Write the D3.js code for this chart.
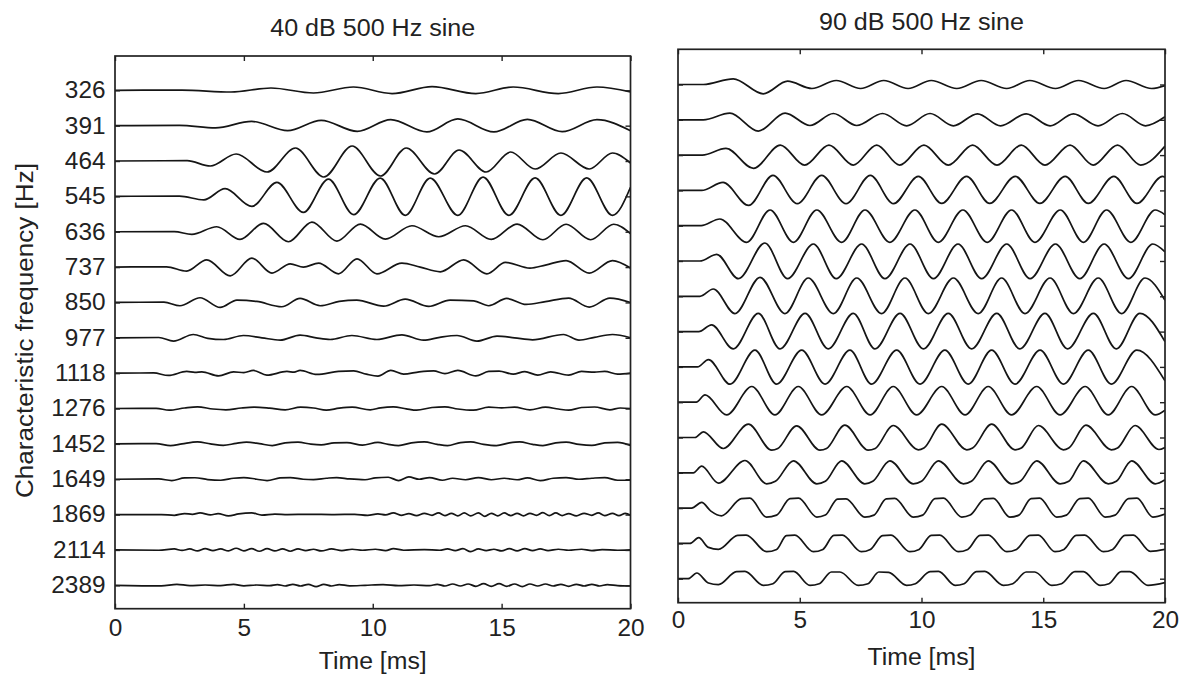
<!DOCTYPE html>
<html>
<head>
<meta charset="utf-8">
<script src="https://cdn.jsdelivr.net/npm/d3@7"></script>
<style>
  body { margin: 0; background: #fff; }
  text { font-family: "Liberation Sans", Arial, Helvetica, sans-serif; fill: #222; }
</style>
</head>
<body>
<svg id="chart" width="1188" height="675"></svg>
<script>
// characteristic frequencies of the channels (top to bottom)
const cfLabels = ["326", "391", "464", "545", "636", "737", "850", "977",
  "1118", "1276", "1452", "1649", "1869", "2114", "2389"]
const timeTicks = [0, 5, 10, 15, 20]
const titles = ["40 dB 500 Hz sine", "90 dB 500 Hz sine"]

// 40 dB response, one trace per channel: [time ms, displacement]
const quiet = [
  [[0,0],[2.6,0.2],[4.5,-1.7],[6.05,2.3],[7.7,-2.7],[9.25,3.3],[10.75,-3.3],[12.3,3.7],[14.0,-3.3],[15.45,3.3],[17.2,-3.3],[18.7,3.3],[20,-1.5]],
  [[0,0],[2.5,0.3],[3.9,-2.3],[5.3,4.3],[6.7,-5],[8.0,5.3],[9.4,-5.7],[10.7,6],[12.1,-6.3],[13.3,6.7],[14.7,-6.3],[16.0,6.3],[17.35,-6],[18.7,6],[20,-5]],
  [[0,0],[2.8,0.3],[3.7,-5],[4.7,7],[5.9,-11],[7.0,13],[8.1,-16],[9.2,15],[10.3,-15],[11.3,13],[12.4,-13],[13.35,11],[14.4,-11],[15.35,9],[16.3,-8],[17.3,8],[18.4,-8],[19.3,8],[20,-2]],
  [[0,0],[2.5,0.3],[3.45,-3.5],[4.27,7.7],[5.31,-10],[6.28,14],[7.31,-16],[8.28,17.3],[9.26,-18.3],[10.29,18.3],[11.26,-19],[12.23,18.3],[13.3,-19],[14.28,19.3],[15.28,-19],[16.3,18.5],[17.3,-19],[18.3,18.5],[19.3,-19],[20,9]],
  [[0,0],[2.3,0.2],[2.98,-2.7],[3.95,5],[4.85,-7.7],[5.76,8.3],[6.73,-10],[7.64,9.7],[8.61,-9.3],[9.52,7.7],[10.49,-7.3],[11.52,6],[12.56,-5],[13.6,6],[14.6,-7.7],[15.6,7.7],[16.6,-8],[17.5,7.5],[18.45,-8],[19.35,7.5],[20,-2]],
  [[0,0],[2.0,0.3],[2.78,-4],[3.56,7.3],[4.47,-8.7],[5.31,9],[6.09,-6],[6.8,3.3],[7.31,0],[7.9,4],[8.67,-6.7],[9.39,8.3],[10.16,-6.7],[11.13,4],[11.84,0],[12.62,-4.7],[13.53,7.3],[14.43,-6.7],[15.15,4.7],[16.1,-1],[16.7,2],[17.5,6.5],[18.4,-6],[19.3,6.5],[20,-1]],
  [[0,0],[1.9,0.3],[2.52,-3.3],[3.3,4.7],[4.08,-5],[4.73,2.3],[5.5,1],[6.47,-4.3],[7.18,4],[7.96,-3.3],[8.7,1],[9.38,2.3],[10.42,-3.7],[11.26,3.3],[12.17,-4],[13.0,2.3],[13.92,1.5],[14.5,-3.3],[15.2,4],[15.95,-2],[16.7,0.8],[17.6,4.3],[18.4,-4.7],[19.2,4.3],[20,0]],
  [[0,0],[1.7,0.3],[2.27,-3.3],[3.04,3.3],[3.6,-0.5],[4.21,-1.7],[4.98,2.3],[5.7,0],[6.41,-2.3],[7.18,2.7],[7.8,0],[8.35,-1.7],[9.19,2.3],[10.16,-1.7],[11.13,3],[11.97,-2.3],[12.6,0.5],[13.27,2.3],[14.04,-3.3],[14.82,1.7],[15.5,0],[16.2,-2],[17.4,3.3],[18.0,-2.3],[18.6,0.5],[19.3,3.3],[20,0]],
  [[0,0],[1.5,0.2],[2.07,-2.3],[2.78,1.7],[3.1,0.8],[3.37,1.3],[4.02,-2.7],[4.6,1.3],[5.0,0.5],[5.37,2.7],[5.89,-2],[6.67,1.7],[6.95,1],[7.18,2.7],[7.83,-1.3],[8.67,1.7],[9.26,2.3],[9.75,-1],[10.2,-3],[10.7,2.7],[11.2,-1],[11.8,1.3],[12.36,2.3],[12.8,-0.5],[13.3,2.7],[14.0,-2.7],[14.5,1.7],[14.9,2],[15.45,-1],[15.9,1.5],[16.4,-2],[16.9,1.3],[17.6,-2],[18.1,1.7],[18.6,1],[19.0,1.8],[19.5,-1],[20,0]],
  [[0,0],[1.6,0.2],[2.1,-1.7],[2.7,0.5],[3.2,1.7],[3.8,-0.5],[4.3,-1.3],[4.9,0.5],[5.4,1.3],[6.0,0.3],[6.6,-1.3],[7.2,1.3],[7.7,0.5],[8.2,-1.7],[8.7,0.3],[9.2,1.3],[9.9,-1.3],[10.3,0.7],[10.8,1.7],[11.3,-0.3],[11.7,-1.7],[12.3,1],[12.8,1.7],[13.3,-0.5],[13.9,-1.7],[14.5,1.3],[15.0,0.7],[15.5,1.3],[16.1,-1.3],[16.7,1.3],[17.2,-0.5],[17.6,-1.7],[18.1,1],[18.6,1.5],[19.2,-1.3],[19.6,0.5],[20,0]],
  [[0,0],[1.6,0.2],[2.15,-1.7],[2.6,0],[3.2,2],[3.7,0],[4.2,-1.5],[4.7,0.5],[5.1,1.7],[5.6,0.3],[6.1,-1.7],[6.6,1],[7.1,1.7],[7.6,-0.3],[8.0,-1],[8.5,1],[9.0,1.3],[9.6,-1.3],[10.2,1.5],[10.6,-0.5],[11.0,-1.7],[11.5,1],[12.0,2],[12.5,-0.5],[12.9,-1.7],[13.4,1.3],[13.8,2],[14.3,-0.5],[14.8,-1.7],[15.3,1],[15.7,2],[16.2,-0.5],[16.6,-1.7],[17.1,1],[17.5,1.7],[18.0,-0.5],[18.5,-1.5],[19.0,1],[19.5,1.5],[20,-1.5]],
  [[0,0],[1.7,0.3],[2.2,-1.3],[2.7,1.3],[3.1,1.5],[3.6,-0.3],[4.1,-1],[4.6,1],[5.0,1.7],[5.5,0],[5.9,-1.3],[6.4,1.3],[6.8,1.7],[7.3,0],[7.7,-0.3],[8.2,1],[8.6,1.7],[9.1,0.3],[9.7,-0.5],[10.1,1.3],[10.6,2],[11.0,-1.3],[11.4,2.3],[11.8,0],[12.2,1.7],[12.7,-1],[13.1,1],[13.6,-0.5],[14.1,1.7],[14.6,-0.5],[15.1,1],[15.6,-0.5],[16.0,1.3],[16.5,-1.3],[17.0,1],[17.5,1.7],[18.0,0],[18.5,1],[19.0,1.7],[19.5,-1],[20,-1]],
  [[0,0],[1.8,0],[2.3,-0.7],[2.7,1],[3.0,0.3],[3.3,1.7],[3.7,-0.3],[4.0,1],[4.4,-1.3],[4.8,0.7],[5.3,1.7],[5.7,-0.5],[6.2,0.5],[6.7,0],[7.5,0.3],[8.5,0],[9.3,0.3],[9.8,-0.7],[10.2,0.7],[10.5,-0.3],[10.8,1.7],[11.1,-0.7],[11.4,1],[11.7,-1],[12.0,1.3],[12.3,-0.7],[12.55,1.7],[12.8,-1],[13.05,1.3],[13.3,-1.3],[13.55,1.7],[13.8,-1.3],[14.1,1.7],[14.35,-1.7],[14.6,1.3],[14.85,-1.3],[15.1,1.7],[15.35,-1],[15.6,1.3],[15.85,-1.3],[16.1,1.3],[16.35,-0.7],[16.6,2],[16.85,-1],[17.1,1.7],[17.35,-1],[17.6,1],[17.9,-1.3],[18.2,1.3],[18.5,-0.7],[18.75,1.7],[19.0,-1],[19.3,1.3],[19.55,-1],[19.8,1.3],[20,-0.7]],
  [[0,0],[1.7,-0.3],[2.3,1],[2.6,-0.5],[2.9,1],[3.2,-1],[3.5,1.3],[3.8,-0.7],[4.1,1],[4.4,-1],[4.7,1.7],[5.0,-1],[5.3,1.3],[5.6,-1.3],[5.9,1.3],[6.2,-1],[6.5,1],[6.8,-1.3],[7.1,1],[7.4,-0.7],[7.7,0.7],[8.0,-1],[8.4,1],[8.8,-0.7],[9.2,0.7],[9.6,-0.3],[10.1,0.7],[10.5,-0.7],[10.8,1.3],[11.2,-0.3],[12.0,0.3],[12.6,-0.3],[12.9,1],[13.2,-0.7],[13.5,1.3],[13.8,-1.7],[14.1,1],[14.4,-0.7],[14.7,0.7],[15.0,-1],[15.3,1.3],[15.6,-1],[15.9,1.3],[16.2,-0.7],[16.5,1],[16.8,-0.7],[17.2,0.7],[17.6,-0.3],[18.1,0.7],[18.5,-0.7],[18.9,0.3],[19.5,-0.3],[20,0]],
  [[0,0],[1.8,-0.5],[2.4,1],[2.9,-0.3],[3.5,0.3],[4.1,-0.3],[4.6,1],[5.0,-0.5],[5.5,0.3],[6.0,-0.3],[6.3,0.7],[6.6,-0.7],[6.9,1],[7.2,-0.7],[7.5,1],[7.8,-1.3],[8.1,1],[8.4,-0.7],[8.7,0.7],[9.1,-0.5],[9.7,0],[10.4,0.7],[11.0,-0.3],[11.6,0.3],[12.2,-0.3],[12.5,1],[12.8,-0.7],[13.1,1.3],[13.4,-0.7],[13.7,1.3],[14.0,-1],[14.3,1.7],[14.6,-1],[14.9,1.7],[15.2,-1],[15.5,1.3],[15.8,-1.3],[16.1,1.3],[16.4,-0.7],[16.7,1.3],[17.0,-0.7],[17.3,1],[17.6,-1],[17.9,1],[18.2,-0.7],[18.5,1],[18.8,-0.7],[19.1,0.7],[19.5,-0.3],[20,-0.7]]
]

// 90 dB response, same channels
const loud = [
  [[0,0],[1.04,0],[2.27,5.7],[3.5,-9.3],[4.5,3.3],[5.5,-4],[6.5,4],[7.5,-4],[8.45,4],[9.45,-4],[10.4,4],[11.45,-4],[12.45,4],[13.5,-4],[14.45,4],[15.5,-4],[16.45,4],[17.5,-4],[18.4,4],[19.45,-4],[20,-1]],
  [[0,0],[1.04,0],[2.13,6.7],[3.3,-11.3],[4.4,6.7],[5.42,-5.7],[6.38,6.3],[7.34,-5.7],[8.4,6.3],[9.39,-6],[10.35,6.3],[11.31,-6],[12.3,6],[13.25,-6],[14.3,6],[15.28,-6],[16.24,6],[17.25,-6],[18.25,6.3],[19.2,-6],[20,3]],
  [[0,0],[1.0,0],[1.97,6.7],[3.1,-13.3],[4.2,10],[5.2,-10],[6.2,10],[7.2,-10],[8.16,10],[9.1,-10],[10.1,10],[11.1,-10],[12.1,10],[13.1,-10],[14.1,10],[15.07,-10],[16.1,10],[17.05,-10],[18.05,10],[19.0,-10],[20,9]],
  [[0,0],[0.97,0],[1.85,8],[2.9,-15],[3.9,15],[4.9,-13.3],[5.9,15],[6.9,-13.3],[7.9,15],[8.85,-13.3],[9.87,14],[10.83,-13],[11.85,14],[12.8,-13],[13.85,14],[14.86,-13],[15.9,14],[16.85,-13],[17.9,14],[18.85,-13],[19.9,14],[20,13]],
  [[0,0],[0.95,0],[1.72,6.7],[2.82,-16.7],[3.78,15.7],[4.74,-16.7],[5.7,15.7],[6.72,-16.7],[7.68,15.7],[8.7,-16.7],[9.73,15.7],[10.69,-16.7],[11.7,15.7],[12.7,-16.7],[13.7,15.7],[14.66,-16.7],[15.7,15.7],[16.65,-16.7],[17.6,15.7],[18.6,-16.7],[19.6,15.7],[20,11]],
  [[0,0],[0.9,0],[1.59,6.7],[2.48,-17.7],[3.57,18],[4.5,-17.7],[5.56,17],[6.5,-17.7],[7.54,17],[8.5,-17.7],[9.53,17],[10.49,-17.7],[11.5,17],[12.47,-17.7],[13.5,17],[14.46,-17.7],[15.5,17],[16.5,-17.7],[17.5,17],[18.5,-17.7],[19.5,17],[20,9]],
  [[0,0],[0.9,0],[1.45,7.3],[2.34,-17.3],[3.37,19],[4.39,-17.3],[5.35,18.3],[6.38,-17.3],[7.34,18.3],[8.36,-17.3],[9.32,18.3],[10.28,-17.3],[11.31,18.3],[12.33,-17.3],[13.29,18.3],[14.25,-17.3],[15.28,18.3],[16.24,-17.3],[17.26,18.3],[18.22,-17.3],[19.18,18.3],[20,-4]],
  [[0,0],[0.85,0],[1.38,6.7],[2.27,-17.3],[3.3,18.3],[4.19,-17.3],[5.22,18.3],[6.17,-17.3],[7.2,18.3],[8.09,-17.3],[9.12,18.3],[10.08,-17.3],[11.1,18.3],[12.06,-17.3],[13.09,18.3],[14.04,-17.3],[15.07,18.3],[16.0,-17.3],[17.06,18.3],[18.0,-17.3],[18.97,18.3],[20,-10]],
  [[0,0],[0.8,0],[1.25,7.3],[2.14,-17.3],[3.16,16.7],[4.05,-17.3],[5.08,16.7],[6.04,-17.3],[7.06,16.7],[7.95,-17.3],[8.98,16.7],[9.94,-17.3],[10.96,16.7],[11.92,-17.3],[12.88,16.7],[13.84,-17.3],[14.87,16.7],[15.83,-17.3],[16.85,16.7],[17.8,-17.3],[18.84,16.7],[20,-14]],
  [[0,0],[0.75,0],[1.11,7.3],[2.0,-12.7],[3.03,15.7],[3.98,-12.7],[4.94,15.7],[5.9,-12.7],[6.93,15.7],[7.89,-12.7],[8.84,15.7],[9.8,-12.7],[10.83,15.7],[11.79,-12.7],[12.74,15.7],[13.7,-12.7],[14.73,15.7],[15.69,-12.7],[16.72,15.7],[17.67,-12.7],[18.63,15.7],[19.6,-12.7],[20,-8]],
  [[0,0],[0.7,0],[1.04,5.7],[1.86,-11],[2.89,13.3],[3.85,-12.7],[4.1,-11],[4.87,11.7],[5.83,-12.7],[6.1,-11],[6.85,12.3],[7.81,-12.7],[8.1,-11],[8.84,12],[9.87,-12.3],[10.1,-10.5],[10.83,13.3],[11.86,-12.3],[12.1,-10.5],[12.88,13.3],[13.84,-12.3],[14.1,-10.5],[14.8,12],[15.83,-12.3],[16.05,-10.5],[16.75,12.3],[17.8,-12.3],[18.05,-10.5],[18.77,12],[19.75,-12],[20,-10]],
  [[0,0],[0.63,0],[0.97,6.7],[1.66,-10.3],[2.75,12.3],[3.64,-11],[4.0,-8.5],[4.74,12],[5.7,-11],[6.05,-8.5],[6.72,12],[7.67,-11],[8.0,-8.5],[8.7,12],[9.66,-11],[10.0,-8.5],[10.69,12],[11.72,-11],[12.05,-8.5],[12.74,12],[13.7,-11],[14.05,-8.5],[14.73,12],[15.69,-11],[16.05,-8.5],[16.65,12],[17.67,-11],[18.0,-8.5],[18.63,12],[19.6,-11],[20,-7]],
  [[0,0],[0.56,0],[0.97,5.7],[1.35,-3],[1.79,-7.7],[2.6,9.5],[2.95,10],[3.63,-9],[4.05,-7],[4.6,9.5],[4.95,10],[5.7,-9],[6.05,-7],[6.55,9],[6.9,9.3],[7.67,-9],[8.05,-7],[8.55,9.3],[8.9,9.7],[9.66,-9],[10.05,-7],[10.55,9.5],[10.9,10],[11.65,-9],[12.0,-7],[12.6,9.3],[12.95,9.7],[13.63,-9],[14.0,-7],[14.5,9.5],[14.85,10],[15.55,-9],[15.95,-7],[16.5,9.5],[16.85,10],[17.54,-9],[17.95,-7],[18.5,9.5],[18.85,10],[19.5,-9],[20,-6]],
  [[0,0],[0.49,0],[0.85,5.7],[1.25,-4],[1.66,-6],[2.45,8],[2.8,8.3],[3.64,-8.3],[4.05,-6],[4.45,7.7],[4.8,8.3],[5.56,-8.3],[5.95,-6],[6.4,8],[6.75,8.3],[7.53,-8.3],[7.9,-6],[8.4,7.7],[8.75,8.3],[9.52,-8.3],[9.9,-6],[10.4,8],[10.75,8.3],[11.51,-8.3],[11.9,-6],[12.4,8],[12.75,8.3],[13.5,-8.3],[13.9,-6],[14.45,8],[14.8,8.3],[15.48,-8.3],[15.85,-6],[16.35,8],[16.7,8.3],[17.47,-8.3],[17.85,-6],[18.35,8],[18.7,8.3],[19.4,-8],[20,-6]],
  [[0,0],[0.42,0],[0.77,5.7],[1.25,-4.3],[1.66,-6],[2.4,7],[2.75,7.3],[3.5,-6.7],[3.9,-5],[4.4,7],[4.75,7.3],[5.42,-6.7],[5.8,-5],[6.3,6.7],[6.65,6.7],[7.4,-6.7],[7.8,-5],[8.25,6.7],[8.65,6.3],[9.39,-6.7],[9.75,-5],[10.35,7],[10.7,7.3],[11.38,-6.7],[11.75,-5],[12.25,7],[12.6,7.3],[13.36,-6.7],[13.75,-5],[14.3,6.7],[14.65,6.7],[15.35,-6.7],[15.75,-5],[16.3,7],[16.65,7],[17.33,-6.7],[17.7,-5],[18.2,7],[18.55,7],[19.3,-6.7],[20,-4]]
]

const svg = d3.select("#chart")
const fontSize = 23
const stretch = 1.06   // the figure's lettering is a little wider than Arial

function drawPanel(traces, title, box, showLabels, idx) {
  const x = d3.scaleLinear().domain([0, 20]).range([box.left, box.right])
  const y = d3.scalePoint().domain(cfLabels).range([box.firstRow, box.lastRow])
  const amp = d3.scaleLinear().domain([-20, 20]).range([20, -20])

  const g = svg.append("g")

  g.append("clipPath").attr("id", "clip" + idx)
    .append("rect")
    .attr("x", box.left).attr("y", box.top)
    .attr("width", box.right - box.left).attr("height", box.bottom - box.top)

  // traces
  const line = d3.line().curve(d3.curveMonotoneX)
  g.append("g").attr("clip-path", "url(#clip" + idx + ")")
    .selectAll("path")
    .data(traces)
    .join("path")
    .attr("d", (d, i) => line(d.map(p => [x(p[0]), y(cfLabels[i]) + amp(p[1])])))
    .attr("fill", "none")
    .attr("stroke", "#151515")
    .attr("stroke-width", 1.7)
    .attr("stroke-linejoin", "round")

  // axes, ticks pointing inward
  const bottomAxis = g.append("g")
    .attr("transform", `translate(0,${box.bottom})`)
    .call(d3.axisBottom(x).tickValues(timeTicks).tickSize(-5).tickPadding(box.xPad))
  g.append("g")
    .attr("transform", `translate(0,${box.top})`)
    .call(d3.axisTop(x).tickValues(timeTicks).tickSize(-5).tickFormat(""))
  const leftAxis = g.append("g")
    .attr("transform", `translate(${box.left},0)`)
    .call(d3.axisLeft(y).tickSize(-5).tickFormat(showLabels ? null : ""))
  g.append("g")
    .attr("transform", `translate(${box.right},0)`)
    .call(d3.axisRight(y).tickSize(-5).tickFormat(""))

  g.selectAll(".domain").remove()
  g.selectAll(".tick line").attr("stroke", "#222").attr("stroke-width", 1.4)
  g.selectAll(".tick text")
    .attr("font-size", fontSize)
    .attr("font-family", '"Liberation Sans", Arial, sans-serif')
    .attr("fill", "#222")

  bottomAxis.selectAll(".tick text")
    .attr("transform", `scale(${stretch},1)`)
  leftAxis.selectAll(".tick text")
    .attr("x", -9.5 / stretch)
    .attr("transform", `scale(${stretch},1)`)

  // frame
  g.append("rect")
    .attr("x", box.left).attr("y", box.top)
    .attr("width", box.right - box.left).attr("height", box.bottom - box.top)
    .attr("fill", "none").attr("stroke", "#222").attr("stroke-width", 1.7)

  const mid = (box.left + box.right) / 2
  g.append("text")
    .attr("x", mid).attr("y", box.titleY)
    .attr("text-anchor", "middle").attr("font-size", fontSize)
    .attr("textLength", 205).attr("lengthAdjust", "spacingAndGlyphs")
    .text(title)
  g.append("text")
    .attr("x", mid).attr("y", box.xTitleY)
    .attr("text-anchor", "middle").attr("font-size", fontSize)
    .attr("textLength", 108).attr("lengthAdjust", "spacingAndGlyphs")
    .text("Time [ms]")
}

drawPanel(quiet, titles[0], {
  left: 115, right: 630.5, top: 56, bottom: 608.7,
  firstRow: 90.3, lastRow: 585.3, titleY: 36, xTitleY: 669, xPad: 11
}, true, 0)

drawPanel(loud, titles[1], {
  left: 678, right: 1165, top: 49.3, bottom: 602.7,
  firstRow: 84.5, lastRow: 578.7, titleY: 30, xTitleY: 665, xPad: 9
}, false, 1)

svg.append("text")
  .attr("transform", "translate(33,330.5) rotate(-90)")
  .attr("text-anchor", "middle").attr("font-size", fontSize)
  .attr("textLength", 335).attr("lengthAdjust", "spacingAndGlyphs")
  .text("Characteristic frequency [Hz]")
</script>
</body>
</html>
